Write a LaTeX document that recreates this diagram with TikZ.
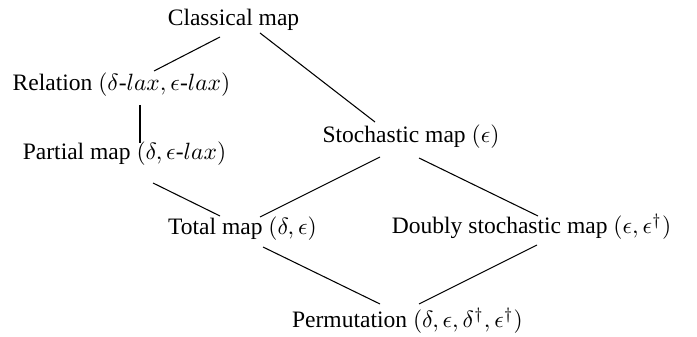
\documentclass[tikz,border=0pt]{standalone}
\usepackage{fontspec}
\setmainfont{Liberation Serif}
\usetikzlibrary{calc}
\newcommand{\hy}{\mbox{-}}
\begin{document}
\begin{tikzpicture}[x=0.4248pt,y=-0.4248pt,
  lbl/.style={anchor=base,inner sep=0pt,font=\fontsize{10pt}{12pt}\selectfont},
  edge/.style={line width=0.45pt}]
\useasboundingbox (0,0) rectangle (697,337);
\node[lbl] (cl)   at (233.5,26)  {Classical map};
\node[lbl] (rel)  at (121.5,91)  {Relation $(\delta\hy lax, \epsilon\hy lax)$};
\node[lbl] (par)  at (124.5,160) {Partial map $(\delta, \epsilon\hy lax)$};
\node[lbl] (sto)  at (411,143)   {Stochastic map $(\epsilon)$};
\node[lbl] (tot)  at (242.5,235) {Total map $(\delta, \epsilon)$};
\node[lbl] (dbl)  at (531.5,234) {Doubly stochastic map $(\epsilon, \epsilon^\dagger)$};
\node[lbl] (perm) at (407.5,328) {Permutation $(\delta, \epsilon, \delta^\dagger, \epsilon^\dagger)$};
\draw[edge] ($(cl.base)+(-13.5,11)$) -- ($(rel.base)+(32.5,-20)$);
\draw[edge] ($(cl.base)+(26.5,7)$) -- ($(sto.base)+(-36,-21)$);
\draw[edge] ($(rel.base)+(18.5,14)$) -- ($(par.base)+(15.5,-17)$);
\draw[edge] ($(par.base)+(28.5,23)$) -- ($(tot.base)+(-22.5,-19)$);
\draw[edge] ($(sto.base)+(-31,14)$) -- ($(tot.base)+(17.5,-18)$);
\draw[edge] ($(sto.base)+(8,15)$) -- ($(dbl.base)+(6.5,-18)$);
\draw[edge] ($(tot.base)+(20.5,12)$) -- ($(perm.base)+(-27.5,-24)$);
\draw[edge] ($(dbl.base)+(5.5,11)$) -- ($(perm.base)+(11.5,-24)$);
\end{tikzpicture}
\end{document}
